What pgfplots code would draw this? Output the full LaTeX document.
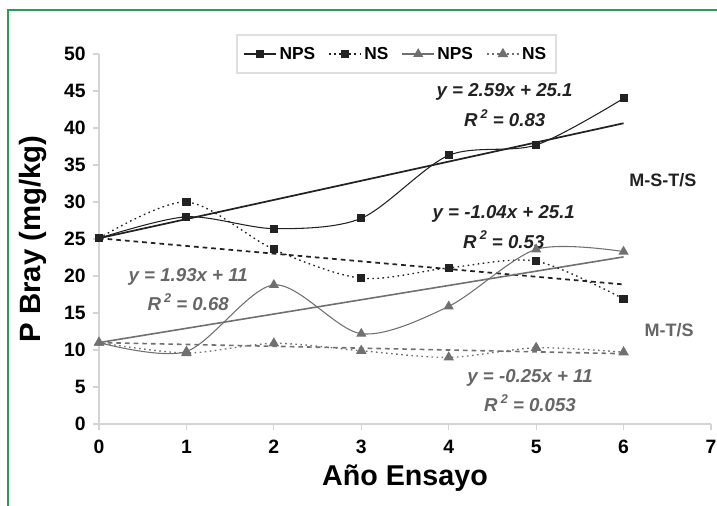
\documentclass[border=0pt]{standalone}
\usepackage{pgfplots}
\pgfplotsset{compat=1.18}
\usepackage{fontspec}
\setmainfont{Liberation Sans}
\definecolor{blk}{HTML}{222222}
\definecolor{gry}{HTML}{707070}
\definecolor{gtxt}{HTML}{666666}
\definecolor{frame}{HTML}{2E9B5A}
\definecolor{axl}{HTML}{D4D4D4}
\newcommand{\Rsq}{R\,\raisebox{0.45em}{\fontsize{9.5}{10}\selectfont 2}}
\begin{document}
\begin{tikzpicture}
\useasboundingbox (0pt,0pt) rectangle (537.75pt,379.5pt);
\draw[frame, line width=1.2pt] (6pt,0pt) -- (6pt,372pt) -- (537.75pt,372pt);
\begin{axis}[
  at={(74.25pt,61.5pt)}, anchor=south west,
  scale only axis, width=459pt, height=277.5pt,
  xmin=0, xmax=7, ymin=0, ymax=50,
  xtick={0,1,...,7}, ytick={0,5,...,50},
  axis x line*=bottom, axis y line*=left,
  axis line style={-, axl, line width=0.8pt},
  tick align=outside, major tick length=4.5pt,
  tick style={axl, line width=0.8pt},
  /pgf/number format/assume math mode=true,
  ticklabel style={font=\bfseries\fontsize{14.5}{16}\selectfont, text=black},
  xticklabel style={yshift=-4pt},
  yticklabel style={xshift=-2pt},
  xlabel={Año Ensayo}, ylabel={P Bray (mg/kg)},
  every axis x label/.style={at={(axis description cs:0.5,-0.146)}, anchor=center, font=\bfseries\fontsize{21.5}{24}\selectfont},
  every axis y label/.style={at={(axis description cs:-0.108,0.5)}, rotate=90, anchor=center, font=\bfseries\fontsize{22}{24}\selectfont},
  clip=false,
  legend columns=4,
  legend style={at={(rel axis cs:0.486,1.0)}, anchor=center, draw=none, fill=none,
    font=\bfseries\fontsize{13}{15}\selectfont, inner xsep=5pt,
    /tikz/every even column/.append style={column sep=8pt}},
  legend image code/.code={\draw[mark repeat=2,mark phase=2,#1] plot coordinates {(0cm,0cm) (0.42cm,0cm) (0.84cm,0cm)};},
]
% trendlines
\addplot[blk, line width=1.3pt, forget plot] coordinates {(0,25.1) (6,40.64)};
\addplot[blk, line width=1.3pt, dash pattern=on 3.5pt off 3pt, forget plot] coordinates {(0,25.1) (6,18.86)};
\addplot[gry, line width=1.2pt, forget plot] coordinates {(0,11) (6,22.58)};
\addplot[gry, line width=1.2pt, dash pattern=on 3.5pt off 3pt, forget plot] coordinates {(0,11) (6,9.5)};
% data
\addplot[blk, line width=0.8pt, smooth, mark=square*, mark size=2.6pt, mark options={solid, fill=blk}]
  coordinates {(0,25.1) (1,28.0) (2,26.4) (3,27.8) (4,36.3) (5,37.7) (6,44.0)};
\addlegendentry{NPS}
\addplot[blk, line width=1pt, smooth, dash pattern=on 1.2pt off 2.6pt, mark=square*, mark size=2.6pt, mark options={solid, fill=blk}]
  coordinates {(0,25.1) (1,30.0) (2,23.6) (3,19.7) (4,21.1) (5,22.0) (6,16.9)};
\addlegendentry{NS}
\addplot[gry, line width=0.8pt, smooth, mark=triangle*, mark size=3.6pt, mark options={solid, fill=gry}]
  coordinates {(0,11.0) (1,9.8) (2,18.8) (3,12.2) (4,15.9) (5,23.6) (6,23.3)};
\addlegendentry{NPS}
\addplot[gry, line width=1pt, smooth, dash pattern=on 1.2pt off 2.6pt, mark=triangle*, mark size=3.6pt, mark options={solid, fill=gry}]
  coordinates {(0,11.0) (1,9.6) (2,10.9) (3,9.9) (4,9.0) (5,10.3) (6,9.7)};
\addlegendentry{NS}
% legend frame
\draw[gray!25, fill=white, line width=0.8pt] (rel axis cs:0.2255,1.0514) rectangle (rel axis cs:0.7467,0.9486);
% annotations
\node[font=\bfseries\itshape\fontsize{14}{16}\selectfont, text=blk] at (axis cs:4.64,44.9) {y = 2.59x + 25.1};
\node[font=\bfseries\itshape\fontsize{14}{16}\selectfont, text=blk] at (axis cs:4.64,41.35) {\Rsq\ = 0.83};
\node[font=\bfseries\itshape\fontsize{14}{16}\selectfont, text=blk] at (axis cs:4.63,28.4) {y = -1.04x + 25.1};
\node[font=\bfseries\itshape\fontsize{14}{16}\selectfont, text=blk] at (axis cs:4.63,24.9) {\Rsq\ = 0.53};
\node[font=\bfseries\itshape\fontsize{14}{16}\selectfont, text=gtxt] at (axis cs:1.02,19.9) {y = 1.93x + 11};
\node[font=\bfseries\itshape\fontsize{14}{16}\selectfont, text=gtxt] at (axis cs:1.02,16.5) {\Rsq\ = 0.68};
\node[font=\bfseries\itshape\fontsize{14}{16}\selectfont, text=gtxt] at (axis cs:4.93,6.2) {y = -0.25x + 11};
\node[font=\bfseries\itshape\fontsize{14}{16}\selectfont, text=gtxt] at (axis cs:4.93,2.84) {\Rsq\ = 0.053};
\node[font=\bfseries\fontsize{13.5}{15}\selectfont, text=blk] at (axis cs:6.45,33.0) {M-S-T/S};
\node[font=\bfseries\fontsize{13.5}{15}\selectfont, text=gtxt] at (axis cs:6.52,12.7) {M-T/S};
\end{axis}
\end{tikzpicture}
\end{document}
